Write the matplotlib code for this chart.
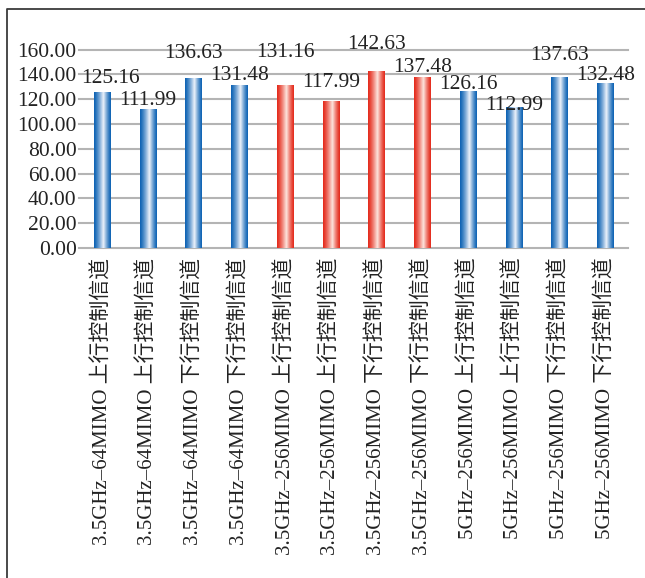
import numpy as np
import matplotlib
matplotlib.use("Agg")
from matplotlib import pyplot as plt
from matplotlib.lines import Line2D
from matplotlib.colors import to_rgb

plt.rcParams['font.family'] = ['Liberation Serif', 'Noto Sans CJK SC', 'DejaVu Sans']

# channel configurations and their values
labels = [
    '3.5GHz–64MIMO 上行控制信道', '3.5GHz–64MIMO 上行控制信道',
    '3.5GHz–64MIMO 下行控制信道', '3.5GHz–64MIMO 下行控制信道',
    '3.5GHz–256MIMO 上行控制信道', '3.5GHz–256MIMO 上行控制信道',
    '3.5GHz–256MIMO 下行控制信道', '3.5GHz–256MIMO 下行控制信道',
    '5GHz–256MIMO 上行控制信道', '5GHz–256MIMO 上行控制信道',
    '5GHz–256MIMO 下行控制信道', '5GHz–256MIMO 下行控制信道',
]
values = [125.16, 111.99, 136.63, 131.48, 131.16, 117.99,
          142.63, 137.48, 126.16, 112.99, 137.63, 132.48]
groups = ['blue'] * 4 + ['red'] * 4 + ['blue'] * 4
yticks = [0, 20, 40, 60, 80, 100, 120, 140, 160]

# value label offsets from the bar top (points)
label_dy = [10, 6, 18, 7, 24, 14, 19, 7, 5, 2, 16, 6]
label_dx = [6, 0, 0, 0, 0, 0, 0, 0, 0, 0, 0, 0]

edge_cols = {'blue': '#0e63b4', 'red': '#e42b1c'}
mid_cols = {'blue': '#eef3fb', 'red': '#fde6df'}


def gradient(kind, n=64, peak=0.56):
    t = np.linspace(0, 1, n)
    f = np.where(t < peak, t / peak, (1 - t) / (1 - peak)) ** 1.3
    e = np.array(to_rgb(edge_cols[kind]))
    m = np.array(to_rgb(mid_cols[kind]))
    return (e + (m - e) * f[:, None])[None, :, :]


fig = plt.figure(figsize=(6.45, 5.78), dpi=100)
ax = fig.add_axes([0.123, 0.571, 0.851, 0.343])

x = np.arange(len(values))
width = 0.36
for xi, v, g in zip(x, values, groups):
    ax.imshow(gradient(g), extent=[xi - width / 2, xi + width / 2, 0, v],
              aspect='auto', interpolation='bilinear', zorder=3)

for xi, v, dx, dy in zip(x, values, label_dx, label_dy):
    ax.annotate('{:.2f}'.format(v), (xi, v), xytext=(dx, dy),
                textcoords='offset points', ha='center', va='center',
                fontsize=15.5, color='#222222', annotation_clip=False, zorder=4)

ax.set_xlim(-0.5, len(values) - 0.5)
ax.set_ylim(0, 160)
ax.set_yticks(yticks)
ax.set_yticklabels(['{:.2f}'.format(t) for t in yticks], fontsize=15.5, color='#222222')
ax.set_xticks(x)
ax.set_xticklabels(labels, rotation=90, fontsize=15, color='#222222', va='top')
ax.tick_params(axis='both', length=0)
ax.tick_params(axis='x', pad=7)
ax.tick_params(axis='y', pad=2)
for s in ax.spines.values():
    s.set_visible(False)
for t in yticks:
    ax.axhline(t, color='#b4b4b4', lw=1.5, zorder=1, clip_on=False)

# outer frame
fig.add_artist(Line2D([7 / 645, 7 / 645, 1.0], [0.0, 1 - 9 / 578, 1 - 9 / 578],
                      transform=fig.transFigure, color='#3a3a3a', lw=1.3))

fig.savefig('out.png', dpi=100)
